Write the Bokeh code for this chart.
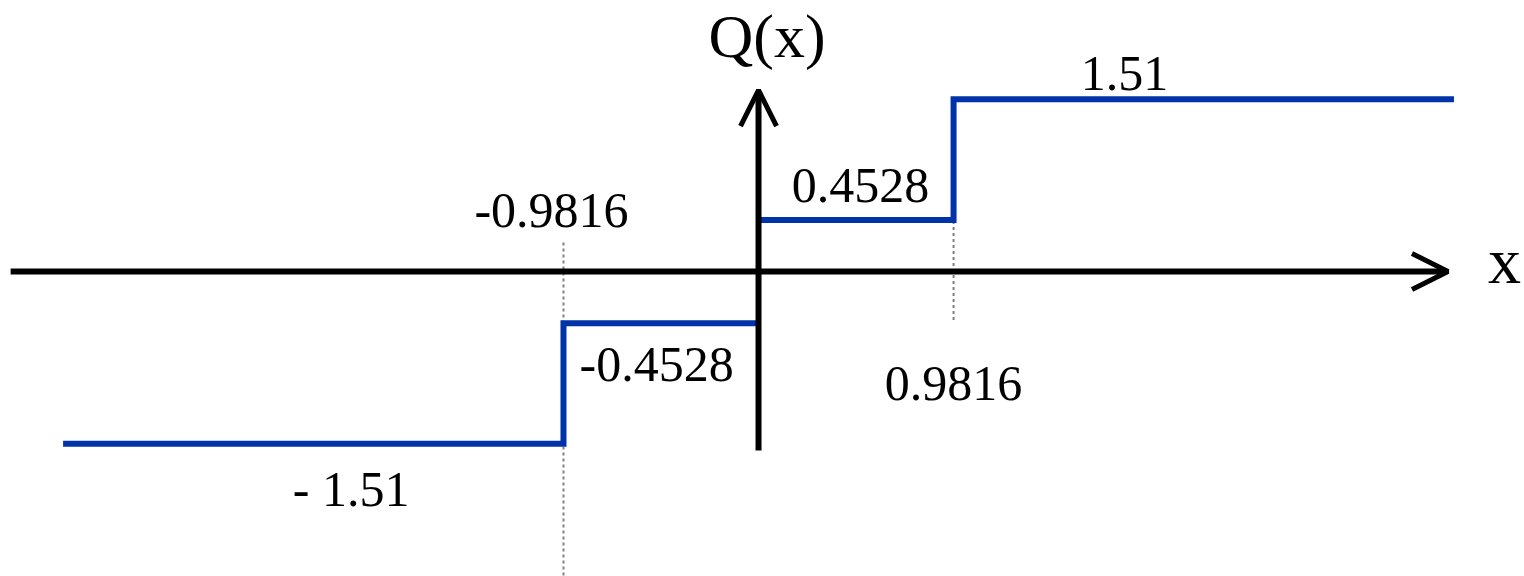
from bokeh.core.properties import value
from bokeh.embed import file_html
from bokeh.models import Arrow, ColumnDataSource, OpenHead, Range1d
from bokeh.plotting import figure
from bokeh.resources import INLINE

# Four-level quantizer Q(x): decision thresholds and reconstruction levels
thresholds = [-0.9816, 0.0, 0.9816]
levels = [-1.51, -0.4528, 0.4528, 1.51]
level_labels = ["- 1.51", "-0.4528", "0.4528", "1.51"]
threshold_labels = ["-0.9816", "0.9816"]
x_span = 3.5  # how far the outer levels are drawn

BLUE = "#0033aa"
SERIF = value("Liberation Serif")

p = figure(
    width=1524, height=576,
    x_range=Range1d(-3.815, 3.855), y_range=Range1d(-2.675, 2.377),
    output_backend="svg", toolbar_location=None, min_border=0,
)
p.axis.visible = False
p.xgrid.visible = False
p.ygrid.visible = False
p.outline_line_color = None
p.background_fill_color = "white"
p.border_fill_color = "white"

t_neg, t_zero, t_pos = thresholds

# dotted guides at the outer thresholds
p.segment(x0=[t_neg, t_pos], y0=[0.254, 0.97], x1=[t_neg, t_pos], y1=[-2.7, -0.43],
          line_color="#808080", line_width=2, line_dash="3 3")

# negative half of the staircase
p.line([-x_span, t_neg, t_neg, t_zero], [levels[0], levels[0], levels[1], levels[1]],
       line_color=BLUE, line_width=6, line_join="miter")
# positive half of the staircase
p.line([t_zero, t_pos, t_pos, x_span], [levels[2], levels[2], levels[3], levels[3]],
       line_color=BLUE, line_width=6, line_join="miter")

# coordinate axes with open arrow heads
p.add_layout(Arrow(end=OpenHead(size=36, line_width=5, line_color="black"),
                   x_start=-3.764, y_start=0, x_end=3.47, y_end=0,
                   line_width=6, line_color="black"))
p.add_layout(Arrow(end=OpenHead(size=36, line_width=5, line_color="black"),
                   x_start=0, y_start=-1.57, x_end=0, y_end=1.59,
                   line_width=6, line_color="black"))

# value annotations
num_src = ColumnDataSource(dict(
    x=[-2.05, -0.513, 0.513, 1.842, -1.042, 0.981],
    y=[-2.06, -0.965, 0.605, 1.588, 0.386, -1.13],
    text=level_labels + threshold_labels,
))
p.text(x="x", y="y", text="text", source=num_src, text_font=SERIF,
       text_font_size="50px", text_align="center", text_baseline="alphabetic",
       y_offset=-17, text_color="black")

# axis names
p.text(x=[0.043], y=[1.904], text=["Q(x)"], text_font=SERIF,
       text_font_size="62px", text_align="center", text_baseline="alphabetic",
       y_offset=-18, text_color="black")
p.text(x=[3.754], y=[-0.105], text=["x"], text_font=SERIF,
       text_font_size="66px", text_align="center", text_baseline="alphabetic",
       y_offset=-23, text_color="black")

open("out.html", "w").write(file_html(p, INLINE))
